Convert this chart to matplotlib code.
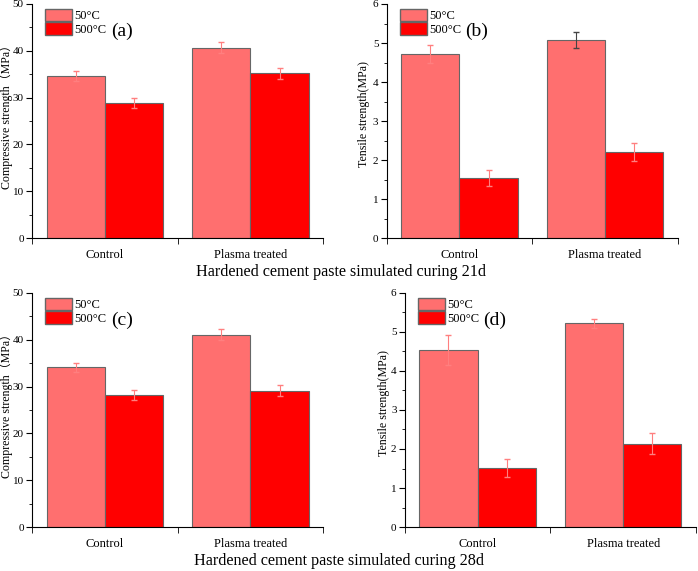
import numpy as np
import matplotlib.pyplot as plt
from matplotlib.patches import Patch

plt.rcParams['font.family'] = ['Liberation Serif', 'Noto Sans CJK SC', 'DejaVu Sans']

groups = ['Control', 'Plasma treated']
series = ['50°C', '500°C']

# (a) compressive 21d
comp21_50 = [34.6, 40.7]
comp21_500 = [28.8, 35.2]
comp21_50_err = [1.0, 1.1]
comp21_500_err = [1.1, 1.2]
# (b) tensile 21d
tens21_50 = [4.73, 5.08]
tens21_500 = [1.54, 2.21]
tens21_50_err = [0.23, 0.21]
tens21_500_err = [0.20, 0.24]
# (c) compressive 28d
comp28_50 = [34.1, 41.1]
comp28_500 = [28.2, 29.1]
comp28_50_err = [1.0, 1.2]
comp28_500_err = [1.1, 1.2]
# (d) tensile 28d
tens28_50 = [4.54, 5.22]
tens28_500 = [1.51, 2.14]
tens28_50_err = [0.39, 0.11]
tens28_500_err = [0.23, 0.26]

c50 = '#ff6f6f'
c500 = '#ff0000'
err_light = '#ff7f7f'

fig = plt.figure(figsize=(6.98, 5.71), dpi=100)

def panel(rect, v50, v500, e50, e500, ymax, ylabel, tag, label_x, ecols50=None):
    ax = fig.add_axes(rect)
    x = np.arange(1, len(groups) + 1)
    w = 0.4
    ax.bar(x - w / 2, v50, w, color=c50, edgecolor='#666666', linewidth=0.8, zorder=2)
    ax.bar(x + w / 2, v500, w, color=c500, edgecolor='#666666', linewidth=0.8, zorder=2)
    if ecols50 is None:
        ecols50 = [err_light] * len(x)
    for xi, v, e, c in zip(x - w / 2, v50, e50, ecols50):
        ax.errorbar(xi, v, yerr=e, fmt='none', ecolor=c, elinewidth=0.8, capsize=2.5, zorder=3)
    for xi, v, e in zip(x + w / 2, v500, e500):
        ax.errorbar(xi, v, yerr=e, fmt='none', ecolor=err_light, elinewidth=0.8, capsize=2.5, zorder=3)
    ax.set_xlim(0.5, 2.5)
    ax.set_ylim(0, ymax)
    ax.spines['top'].set_visible(False)
    ax.spines['right'].set_visible(False)
    ax.set_xticks(x)
    ax.set_xticklabels(groups, fontsize=9)
    ax.set_xticks([0.5, 1.5, 2.5], minor=True)
    ax.tick_params(axis='x', which='major', length=0, pad=8)
    ax.tick_params(axis='x', which='minor', direction='out', length=4)
    step = ymax / 5 if ymax == 50 else 1
    ax.set_yticks(np.arange(0, ymax + step / 2, step))
    ax.set_yticks(np.arange(step / 2, ymax, step), minor=True)
    ax.tick_params(axis='y', which='major', direction='out', length=4, labelsize=8, pad=2)
    ax.tick_params(axis='y', which='minor', direction='out', length=2)
    ax.set_ylabel(ylabel, fontsize=8.6, va='center')
    ax.yaxis.set_label_coords(label_x, 0.528)
    handles = [Patch(facecolor=c50, edgecolor='#666666'), Patch(facecolor=c500, edgecolor='#666666')]
    ax.legend(handles, series, loc='upper left', bbox_to_anchor=(0.045, 0.98), frameon=False,
              handlelength=2.15, handleheight=1.2, labelspacing=0.0, handletextpad=0.2,
              borderaxespad=0.0, borderpad=0.0, fontsize=9)
    ax.text(0.27, 0.885, tag, transform=ax.transAxes, fontsize=14, va='center', ha='left')
    return ax

panel([0.046, 0.583, 0.417, 0.41], comp21_50, comp21_500, comp21_50_err, comp21_500_err,
      50, 'Compressive strength（MPa）', '(a)', -0.088)
panel([0.554, 0.583, 0.417, 0.41], tens21_50, tens21_500, tens21_50_err, tens21_500_err,
      6, 'Tensile strength(MPa)', '(b)', -0.078, ecols50=[err_light, '#444444'])
panel([0.046, 0.077, 0.417, 0.41], comp28_50, comp28_500, comp28_50_err, comp28_500_err,
      50, 'Compressive strength（MPa）', '(c)', -0.088)
panel([0.580, 0.077, 0.417, 0.41], tens28_50, tens28_500, tens28_50_err, tens28_500_err,
      6, 'Tensile strength(MPa)', '(d)', -0.072)

fig.text(0.488, 1 - 272 / 571, 'Hardened cement paste simulated curing 21d', fontsize=11.6, ha='center', va='center')
fig.text(0.486, 1 - 561 / 571, 'Hardened cement paste simulated curing 28d', fontsize=11.6, ha='center', va='center')

fig.savefig('out.png', dpi=100)
